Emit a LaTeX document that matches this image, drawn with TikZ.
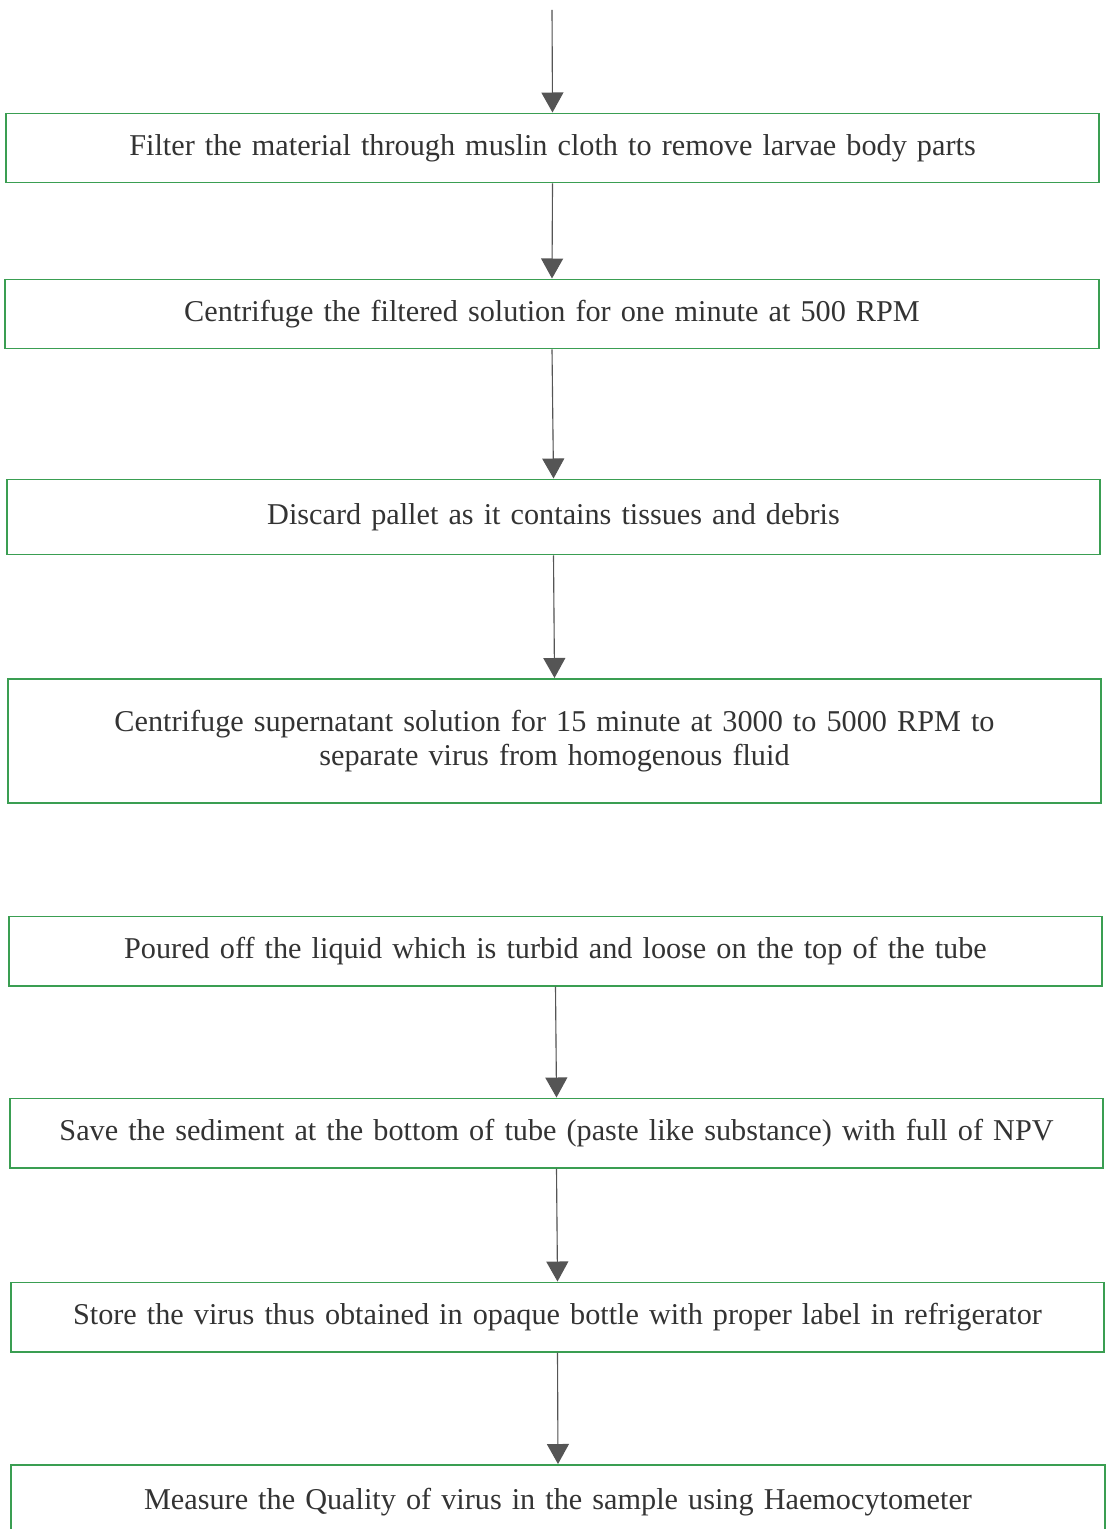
\documentclass[tikz,border=0pt]{standalone}
\usepackage{fontspec}
\setmainfont{Liberation Serif}
\usetikzlibrary{arrows.meta}
\definecolor{boxgreen}{RGB}{58,158,82}
\definecolor{arrowgray}{RGB}{85,85,85}
\begin{document}
\begin{tikzpicture}[x=0.025cm, y=-0.025cm, >={Triangle[width=0.55cm,length=0.5cm]},
    stepbox/.style={draw=boxgreen, line width=1.4pt, minimum width=27.325cm,
        minimum height=1.725cm, text width=26.5cm, align=center, inner sep=0pt,
        text=black!80, font=\fontsize{21.5}{24}\selectfont},
    flowarrow/.style={->, draw=arrowgray, fill=arrowgray!85, line width=0.8pt}]
    \useasboundingbox (0,0) rectangle (1107,1529);

    % Steps
    \node[stepbox] (box1) at (552.5,148) {Filter the material through muslin cloth to remove larvae body parts};
    \node[stepbox] (box2) at (552,314) {Centrifuge the filtered solution for one minute at 500 RPM};
    \node[stepbox, minimum height=1.875cm] (box3) at (553.5,517) {Discard pallet as it contains tissues and debris};
    \node[stepbox, minimum height=3.1cm] (box4) at (554.5,741) {Centrifuge supernatant solution for 15 minute at 3000 to 5000 RPM to\\ separate virus from homogenous fluid};
    \node[stepbox] (box5) at (555.5,951) {Poured off the liquid which is turbid and loose on the top of the tube};
    \node[stepbox] (box6) at (556.5,1133) {Save the sediment at the bottom of tube (paste like substance) with full of NPV};
    \node[stepbox] (box7) at (557.5,1317) {Store the virus thus obtained in opaque bottle with proper label in refrigerator};
    \node[stepbox, minimum height=1.85cm] (box8) at (558,1502) {Measure the Quality of virus in the sample using Haemocytometer};

    % Arrows
    \coordinate (start) at (552,10);
    \draw[flowarrow] (start) -- (box1.north);
    \foreach \a/\b in {box1/box2, box2/box3, box3/box4, box5/box6, box6/box7, box7/box8} {
        \draw[flowarrow] (\a.south) -- (\b.north);
    }
\end{tikzpicture}
\end{document}
